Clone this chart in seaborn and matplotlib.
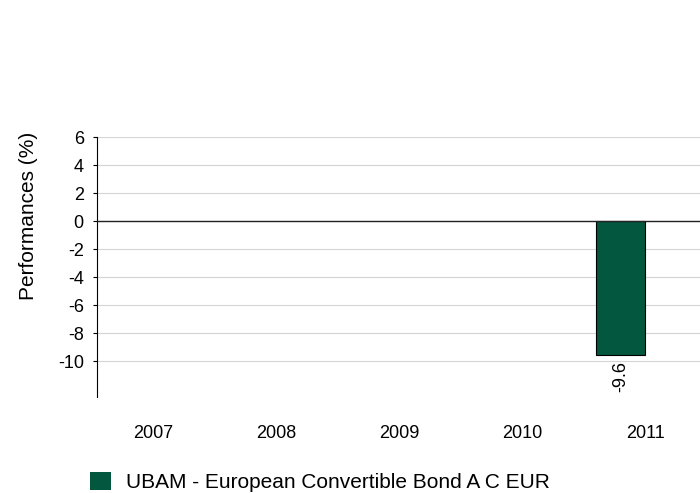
import pandas as pd
import numpy as np
import matplotlib
matplotlib.use('Agg')
import matplotlib.pyplot as plt
from matplotlib.patches import Patch
import seaborn as sns

# Chart data
years = ['2007', '2008', '2009', '2010', '2011']
fund_values = [np.nan, np.nan, np.nan, np.nan, -9.6]
bench_values = [np.nan, np.nan, np.nan, np.nan, np.nan]
fund_name = 'UBAM - European Convertible Bond A C EUR'
bench_name = 'Benchmark'
y_ticks = [-10, -8, -6, -4, -2, 0, 2, 4, 6]

FUND_COLOR = '#03573f'

df = pd.DataFrame({
    'year': years * 2,
    'series': [fund_name] * len(years) + [bench_name] * len(years),
    'value': fund_values + bench_values,
})

sns.set_style('white')
plt.rcParams['font.family'] = ['Liberation Sans', 'DejaVu Sans']
plt.rcParams['text.color'] = 'black'
plt.rcParams['xtick.color'] = 'black'
plt.rcParams['ytick.color'] = 'black'
plt.rcParams['axes.labelcolor'] = 'black'

fig = plt.figure(figsize=(7, 4.93), dpi=100)
ax = fig.add_axes([0.1386, 0.1947, 0.8614, 0.5274])

sns.barplot(
    data=df, x='year', y='value', hue='series',
    order=years, hue_order=[fund_name, bench_name],
    palette=[FUND_COLOR, '#8fbc8f'], saturation=1, errorbar=None,
    edgecolor='black', linewidth=0.8, ax=ax, legend=False,
)

ax.set_xlim(-0.455, 4.447)
ax.set_ylim(-12.57, 6)
ax.set_yticks(y_ticks)
ax.set_yticklabels([str(t) for t in y_ticks], fontsize=13)
ax.grid(axis='y', color='#d4d4d4', linewidth=0.8)
ax.set_axisbelow(True)
ax.axhline(0, color='#222222', linewidth=1.0, zorder=3)

for side in ['top', 'right', 'bottom']:
    ax.spines[side].set_visible(False)
ax.spines['left'].set_color('black')
ax.spines['left'].set_linewidth(0.8)

ax.tick_params(axis='y', left=True, length=3, width=0.8, color='black', pad=6.5)
ax.tick_params(axis='x', length=0, pad=20, labelsize=13)
ax.set_xlabel('')
ax.set_ylabel('Performances (%)', fontsize=15)
ax.yaxis.set_label_coords(-0.098, 0.696)

# value labels under the negative bars
for container in ax.containers:
    labels = ['' if np.isnan(b.get_height()) else f'{b.get_height():.1f}' for b in container]
    ax.bar_label(container, labels=labels, rotation=90, padding=4, fontsize=13)

handles = [Patch(facecolor=FUND_COLOR, edgecolor='none')]
fig.legend(handles, [fund_name], loc='lower left', bbox_to_anchor=(0.102, -0.036),
           frameon=False, fontsize=15, handlelength=1.0, handleheight=1.0,
           handletextpad=0.7)

fig.savefig('out.png', dpi=100)
